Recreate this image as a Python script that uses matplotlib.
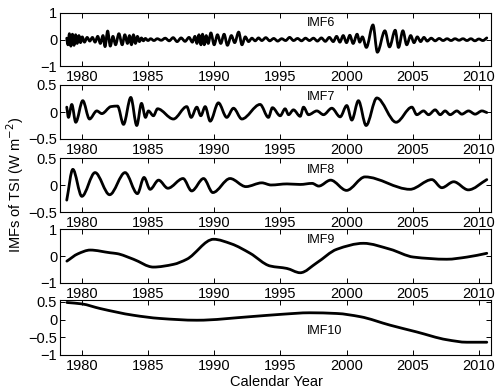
import numpy as np
import matplotlib
matplotlib.use("Agg")
import matplotlib.pyplot as plt
from matplotlib.path import Path
from matplotlib.patches import PathPatch

plt.rcParams['font.family'] = ['Liberation Sans', 'DejaVu Sans']

# (year, value): extrema / turning points of each IMF
imf6 = [(1978.86, 0.05), (1978.95, -0.20), (1979.06, 0.22), (1979.17, -0.25), (1979.29, 0.20),
        (1979.41, -0.22), (1979.53, 0.18), (1979.65, -0.15), (1979.78, 0.15), (1979.90, -0.12),
        (1980.03, 0.10), (1980.20, -0.10), (1980.40, 0.08),
        (1980.60, -0.06), (1980.80, 0.08), (1981.00, -0.10), (1981.20, 0.12), (1981.40, -0.15),
        (1981.60, 0.15), (1981.75, -0.27), (1981.95, 0.32), (1982.15, -0.25), (1982.35, 0.12),
        (1982.55, -0.20), (1982.80, 0.22), (1983.05, -0.20), (1983.25, 0.18), (1983.45, -0.15),
        (1983.60, 0.15), (1983.75, -0.20), (1983.90, 0.18), (1984.05, -0.15), (1984.20, 0.12),
        (1984.35, -0.08), (1984.50, 0.06), (1984.65, -0.05), (1984.80, 0.04), (1985.00, -0.04),
        (1985.20, 0.03), (1985.45, -0.04), (1985.70, 0.03), (1986.00, -0.03), (1986.30, 0.05),
        (1986.60, -0.05), (1986.90, 0.07), (1987.20, -0.08), (1987.50, 0.06), (1987.80, -0.07),
        (1988.10, 0.08), (1988.35, -0.10), (1988.55, 0.12), (1988.70, -0.15), (1988.85, 0.18),
        (1989.00, -0.20), (1989.12, 0.20), (1989.25, -0.20), (1989.40, 0.15), (1989.55, -0.15),
        (1989.75, 0.25), (1990.00, -0.20), (1990.25, 0.18), (1990.50, -0.15), (1990.75, 0.20),
        (1991.00, -0.22), (1991.30, 0.15), (1991.55, -0.12), (1991.85, 0.28), (1992.10, -0.20),
        (1992.35, 0.10), (1992.60, -0.08), (1992.85, 0.05), (1993.10, -0.05), (1993.35, 0.06),
        (1993.60, -0.04), (1993.90, 0.07), (1994.20, -0.05), (1994.50, 0.04), (1994.80, -0.06),
        (1995.10, 0.03), (1995.40, -0.04), (1995.70, 0.08), (1996.00, -0.04), (1996.30, 0.04),
        (1996.60, -0.05), (1996.90, 0.05), (1997.20, -0.04), (1997.50, 0.05), (1997.80, -0.06),
        (1998.10, 0.06), (1998.40, -0.07), (1998.70, 0.08), (1999.00, -0.08), (1999.25, 0.12),
        (1999.50, -0.10), (1999.75, 0.15), (2000.00, -0.12), (2000.25, 0.16), (2000.50, -0.15),
        (2000.80, 0.20), (2001.00, -0.10), (2001.20, 0.10), (2001.50, -0.30), (2002.00, 0.55),
        (2002.33, -0.48), (2002.90, 0.33), (2003.25, -0.28), (2003.68, 0.35), (2003.93, -0.30),
        (2004.26, 0.33), (2004.55, -0.20), (2004.85, 0.15), (2005.10, -0.12), (2005.35, 0.10),
        (2005.60, -0.08), (2005.85, 0.08), (2006.10, -0.06), (2006.40, 0.05), (2006.70, -0.05),
        (2007.00, 0.04), (2007.30, -0.04), (2007.60, 0.03), (2007.90, -0.04), (2008.20, 0.03),
        (2008.50, -0.03), (2008.80, 0.03), (2009.10, -0.04), (2009.40, 0.03), (2009.70, -0.05),
        (2010.00, 0.02), (2010.30, -0.04), (2010.60, 0.06)]

imf7 = [(1978.86, 0.09), (1978.99, -0.10), (1979.24, 0.14), (1979.54, -0.19), (1980.07, 0.21),
        (1980.58, -0.13), (1981.13, 0.02), (1981.51, -0.03), (1982.20, 0.10), (1982.70, 0.11),
        (1983.15, -0.23), (1983.70, 0.27), (1984.15, -0.25), (1984.51, 0.16), (1984.81, -0.10),
        (1985.03, 0.02), (1985.41, -0.07), (1985.72, 0.06), (1986.92, -0.13), (1987.93, 0.10),
        (1988.26, -0.10), (1988.69, 0.09), (1988.99, -0.07), (1989.32, 0.10), (1989.70, -0.17),
        (1990.32, 0.17), (1990.95, -0.10), (1991.46, 0.07), (1992.09, -0.13), (1993.47, 0.14),
        (1994.10, -0.10), (1994.40, 0.08), (1994.99, -0.07), (1995.36, 0.06), (1995.62, -0.05),
        (1995.99, 0.04), (1996.50, -0.08), (1996.75, 0.09), (1997.13, -0.05), (1997.76, 0.02),
        (1998.26, -0.05), (1998.89, 0.07), (1999.52, -0.09), (2000.02, 0.12), (2000.40, -0.15),
        (2000.90, 0.21), (2001.48, -0.25), (2002.29, 0.26), (2003.75, -0.19), (2004.94, 0.09),
        (2005.31, -0.05), (2005.82, 0.02), (2006.20, -0.05), (2006.70, 0.04), (2007.08, -0.05),
        (2007.45, 0.02), (2007.83, -0.05), (2008.34, 0.02), (2008.71, -0.04), (2009.22, 0.02),
        (2009.72, -0.04), (2010.23, 0.02), (2010.60, -0.01)]

imf8 = [(1978.86, -0.28), (1979.32, 0.29), (1980.00, -0.21), (1981.00, 0.23), (1982.10, -0.18),
        (1983.27, 0.23), (1984.20, -0.16), (1984.70, 0.14), (1985.16, -0.08), (1985.80, 0.09),
        (1986.50, -0.06), (1987.65, 0.12), (1988.30, -0.11), (1989.20, 0.12), (1989.90, -0.14),
        (1991.20, 0.12), (1992.40, -0.03), (1993.60, 0.04), (1994.30, 0.00), (1995.50, 0.02),
        (1996.50, 0.01), (1997.40, 0.03), (1997.90, -0.02), (1998.80, 0.09), (2000.00, -0.10),
        (2001.40, 0.15), (2004.80, -0.08), (2006.45, 0.10), (2007.20, -0.05), (2008.10, 0.06),
        (2009.20, -0.09), (2010.60, 0.10)]

imf9 = [(1978.87, -0.19), (1979.70, 0.08), (1980.63, 0.22), (1982.14, 0.12), (1982.64, 0.09),
        (1983.90, -0.12), (1985.40, -0.41), (1986.92, -0.31), (1987.93, -0.12), (1989.95, 0.62),
        (1991.30, 0.45), (1992.72, 0.10), (1994.23, -0.37), (1995.49, -0.46), (1996.50, -0.62),
        (1997.76, -0.25), (1999.27, 0.25), (2001.28, 0.47), (2003.30, 0.25), (2005.06, -0.04),
        (2007.58, -0.12), (2009.10, -0.04), (2010.60, 0.10)]

imf10 = [(1978.87, 0.48), (1980.00, 0.44), (1981.38, 0.31), (1983.90, 0.12), (1985.90, 0.03),
         (1988.70, -0.02), (1992.72, 0.08), (1995.20, 0.15), (1997.20, 0.19), (1999.27, 0.17),
         (2001.03, 0.08), (2003.30, -0.16), (2005.30, -0.35), (2007.58, -0.57), (2009.10, -0.64),
         (2010.60, -0.64)]

names = ['IMF6', 'IMF7', 'IMF8', 'IMF9', 'IMF10']
ylims = [(-1, 1), (-0.5, 0.5), (-0.5, 0.5), (-1, 1), (-1, 0.55)]
yticks = [[-1, 0, 1], [-0.5, 0, 0.5], [-0.5, 0, 0.5], [-1, 0, 1], [-1, -0.5, 0, 0.5]]
label_y = [0.63, 0.28, 0.28, 0.60, -0.31]
xticks = [1980, 1985, 1990, 1995, 2000, 2005, 2010]


def smooth_path(pts):
    # monotone cubic bezier through the read points (flat at turning points)
    t = np.array([p[0] for p in pts], float)
    v = np.array([p[1] for p in pts], float)
    h = np.diff(t)
    d = np.diff(v) / h
    m = np.zeros_like(v)
    m[0], m[-1] = d[0], d[-1]
    for i in range(1, len(v) - 1):
        if d[i - 1] * d[i] > 0:
            w1 = 2 * h[i] + h[i - 1]
            w2 = h[i] + 2 * h[i - 1]
            m[i] = (w1 + w2) / (w1 / d[i - 1] + w2 / d[i])
    verts = [(t[0], v[0])]
    codes = [Path.MOVETO]
    for i in range(len(h)):
        verts += [(t[i] + h[i] / 3, v[i] + m[i] * h[i] / 3),
                  (t[i + 1] - h[i] / 3, v[i + 1] - m[i + 1] * h[i] / 3),
                  (t[i + 1], v[i + 1])]
        codes += [Path.CURVE4] * 3
    return Path(verts, codes)


fig = plt.figure(figsize=(4.98, 3.92), dpi=100)
W, H = 498.0, 392.0
tops = [13, 85, 158, 229, 300]
bots = [66, 139, 212, 283, 355]

for k, pts in enumerate([imf6, imf7, imf8, imf9, imf10]):
    ax = fig.add_axes([60 / W, 1 - bots[k] / H, 430.5 / W, (bots[k] - tops[k]) / H])
    ax.add_patch(PathPatch(smooth_path(pts), fill=False, lw=2.0, edgecolor='k',
                           joinstyle='round', capstyle='round'))
    ax.set_xlim(1978.35, 2010.88)
    ax.set_ylim(*ylims[k])
    ax.set_xticks(xticks)
    ax.set_yticks(yticks[k])
    ax.set_yticklabels([('%g' % y).replace('-', '\u2212') for y in yticks[k]])
    ax.tick_params(direction='in', top=True, right=True, length=3.5, width=0.7,
                   labelsize=10.5, colors='k')
    ax.tick_params(axis='x', pad=3)
    ax.tick_params(axis='y', pad=2)
    for s in ax.spines.values():
        s.set_linewidth(0.8)
    ax.text(1997.0, label_y[k], names[k], fontsize=9, ha='left', va='center')

fig.text(276 / W, 1 - 382 / H, 'Calendar Year', fontsize=10.5, ha='center', va='center')
fig.text(15 / W, 1 - 185 / H, 'IMFs of TSI (W m$^{-2}$)', fontsize=10.5,
         rotation=90, ha='center', va='center')

fig.savefig('out.png', dpi=100)
